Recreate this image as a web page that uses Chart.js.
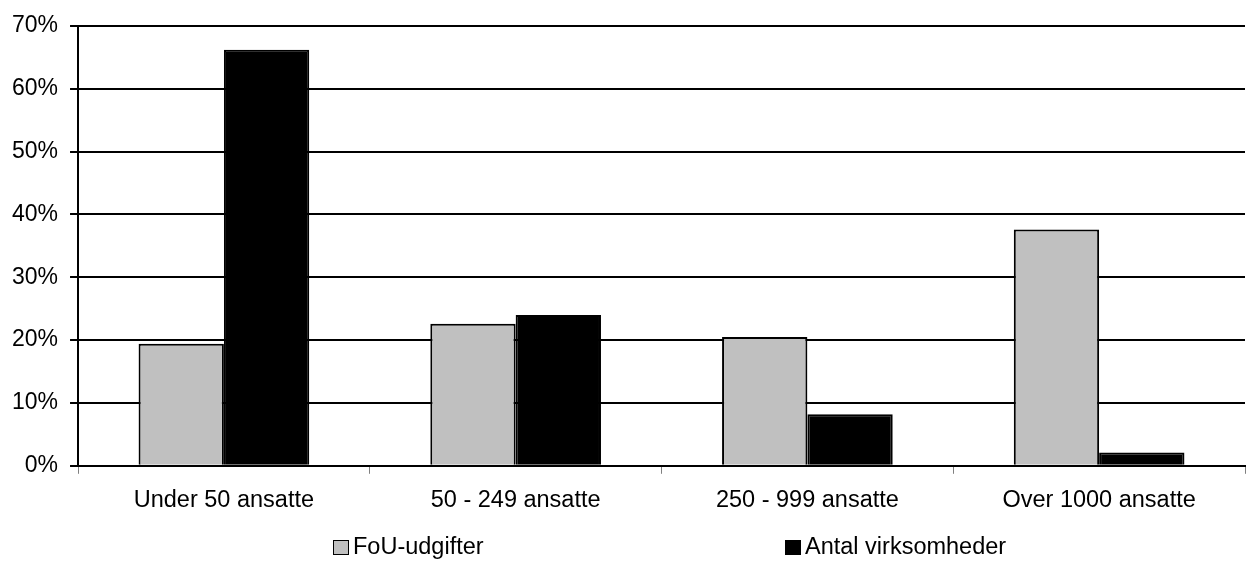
<!DOCTYPE html>
<html>
<head>
<meta charset="utf-8">
<script src="https://cdn.jsdelivr.net/npm/chart.js@4/dist/chart.umd.min.js"></script>
<style>
  html, body { margin: 0; padding: 0; background: #fff; }
  #wrap { position: relative; width: 1250px; height: 561px; }
  #legend { position: absolute; top: 532px; left: 0; width: 1250px; height: 28px;
            font: 23.5px "Liberation Sans", Arial, sans-serif; color: #000; }
  .item { position: absolute; top: 0; line-height: 28px; white-space: nowrap; }
  .box { display: inline-block; box-sizing: border-box; width: 16px; height: 15px;
         border: 1.5px solid #000; vertical-align: -1px; margin-right: 4px; }
</style>
</head>
<body>
<div id="wrap">
  <canvas id="chart" width="1250" height="561"></canvas>
  <div id="legend"></div>
</div>
<script>
// kategorier og værdier (procent)
const categories = ['Under 50 ansatte', '50 - 249 ansatte', '250 - 999 ansatte', 'Over 1000 ansatte'];
const fouUdgifter = [19.4, 22.6, 20.5, 37.6];
const antalVirksomheder = [66.2, 24.0, 8.2, 2.1];
const seriesNames = ['FoU-udgifter', 'Antal virksomheder'];
const seriesColors = ['#c0c0c0', '#000000'];
const yTicks = [0, 10, 20, 30, 40, 50, 60, 70];

const font = { family: '"Liberation Sans", Arial, sans-serif', size: 23 };
const xFont = { family: '"Liberation Sans", Arial, sans-serif', size: 23.5 };

const ctx = document.getElementById('chart').getContext('2d');
const chart = new Chart(ctx, {
  type: 'bar',
  data: {
    labels: categories,
    datasets: [
      { label: seriesNames[0], data: fouUdgifter, backgroundColor: seriesColors[0],
        borderColor: '#000', borderWidth: 2 },
      { label: seriesNames[1], data: antalVirksomheder, backgroundColor: seriesColors[1],
        borderColor: '#000', borderWidth: 2 }
    ]
  },
  options: {
    responsive: false,
    animation: false,
    layout: { padding: { left: 0, right: 5, top: 24, bottom: 33 } },
    datasets: { bar: { categoryPercentage: 0.585, barPercentage: 1.0 } },
    plugins: { legend: { display: false }, tooltip: { enabled: false } },
    scales: {
      x: {
        grid: { drawOnChartArea: false, drawTicks: true, tickLength: 8, color: '#808080', lineWidth: 1, offset: true },
        border: { display: true, color: '#000', width: 2 },
        ticks: { color: '#000', font: xFont, padding: 13 }
      },
      y: {
        min: 0, max: 70,
        afterBuildTicks: axis => { axis.ticks = yTicks.map(v => ({ value: v })); },
        grid: { color: '#000', lineWidth: 2, tickLength: 8, drawTicks: true },
        border: { display: true, color: '#000', width: 2 },
        ticks: { color: '#000', font: font, padding: 12, callback: v => v + '%' }
      }
    }
  }
});

// legende under diagrammet
const legendEl = document.getElementById('legend');
const legendLeft = [333, 785];
seriesNames.forEach((name, i) => {
  const it = document.createElement('span');
  it.className = 'item';
  it.style.left = legendLeft[i] + 'px';
  it.innerHTML = `<span class="box" style="background:${seriesColors[i]}"></span>${name}`;
  legendEl.append(it);
});
</script>
</body>
</html>
